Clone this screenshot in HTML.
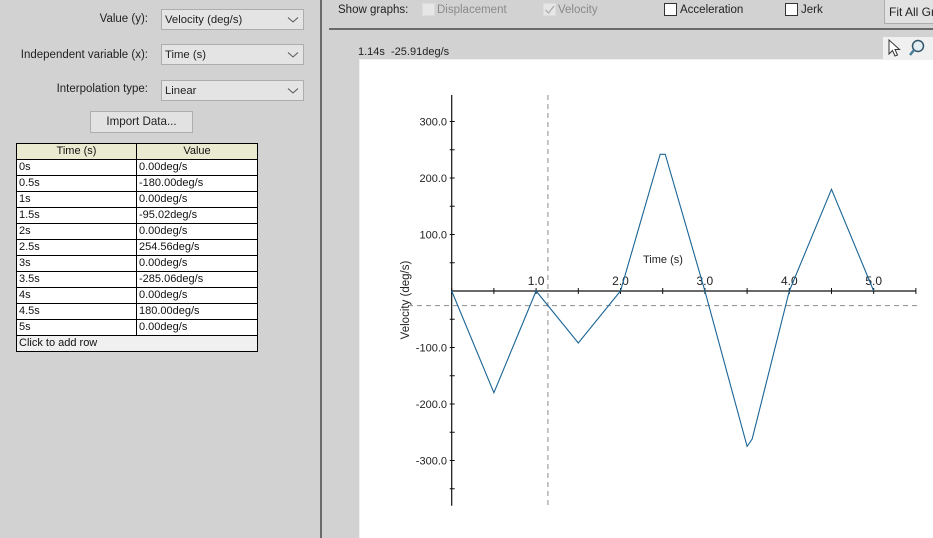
<!DOCTYPE html>
<html lang="en">
<head>
<meta charset="utf-8">
<title>Velocity graph</title>
<style>
html,body{margin:0;padding:0;width:933px;height:538px;overflow:hidden;background:#d2d2d2;}
body{position:relative;font-family:"Liberation Sans",sans-serif;color:#222;}
.abs{position:absolute;white-space:nowrap;}
.lbl{font-size:11.5px;text-align:right;line-height:14px;}
.sel{position:absolute;left:161px;width:141px;height:19px;background:#e4e4e4;border:1px solid #adadad;font-size:11.3px;line-height:20px;text-indent:3px;}
.sel svg{position:absolute;right:4px;top:6px;}
.btn{position:absolute;background:#e2e2e2;border:1px solid #adadad;font-size:11.6px;text-align:center;}
.cb{position:absolute;top:3px;width:11px;height:11px;border:1px solid #333;background:#fff;}
.cb.off{border-color:#dcdcdc;background:#e6e6e6;}
.cbl{position:absolute;top:3px;font-size:11.5px;line-height:14px;white-space:nowrap;}
.cbl.off{color:#8a8a8a;}
table{position:absolute;left:16px;top:143px;width:241px;border-collapse:collapse;table-layout:fixed;font-size:11px;background:#fff;color:#111;}
td,th{border:1px solid #000;height:15px;padding:0 0 0 2px;line-height:15px;font-weight:normal;text-align:left;white-space:nowrap;overflow:hidden;}
th{background:#e9ead0;text-align:center;padding:0;}
td.add{background:#f0f0f0;}
svg text{font-family:"Liberation Sans",sans-serif;}
</style>
</head>
<body>

<div class="abs" style="left:320px;top:0;width:2px;height:538px;background:#6a6a6a"></div>
<div class="abs" style="left:329px;top:28px;width:604px;height:2px;background:#6a6a6a"></div>

<div class="abs lbl" style="right:785px;top:12px">Value (y):</div>
<div class="sel" style="top:9px">Velocity (deg/s)<svg width="12" height="8"><path d="M1 1.5L6 6L11 1.5" fill="none" stroke="#555"/></svg></div>

<div class="abs lbl" style="right:785px;top:48px">Independent variable (x):</div>
<div class="sel" style="top:44px">Time (s)<svg width="12" height="8"><path d="M1 1.5L6 6L11 1.5" fill="none" stroke="#555"/></svg></div>

<div class="abs lbl" style="right:785px;top:82px">Interpolation type:</div>
<div class="sel" style="top:80px">Linear<svg width="12" height="8"><path d="M1 1.5L6 6L11 1.5" fill="none" stroke="#555"/></svg></div>

<div class="btn" style="left:90px;top:111px;width:101px;height:20px;line-height:20px">Import Data...</div>

<table>
<colgroup><col style="width:120px"><col style="width:121px"></colgroup>
<tr><th>Time (s)</th><th>Value</th></tr>
<tr><td>0s</td><td>0.00deg/s</td></tr>
<tr><td>0.5s</td><td>-180.00deg/s</td></tr>
<tr><td>1s</td><td>0.00deg/s</td></tr>
<tr><td>1.5s</td><td>-95.02deg/s</td></tr>
<tr><td>2s</td><td>0.00deg/s</td></tr>
<tr><td>2.5s</td><td>254.56deg/s</td></tr>
<tr><td>3s</td><td>0.00deg/s</td></tr>
<tr><td>3.5s</td><td>-285.06deg/s</td></tr>
<tr><td>4s</td><td>0.00deg/s</td></tr>
<tr><td>4.5s</td><td>180.00deg/s</td></tr>
<tr><td>5s</td><td>0.00deg/s</td></tr>
<tr><td class="add" colspan="2">Click to add row</td></tr>
</table>

<div class="cbl" style="left:338px">Show graphs:</div>
<div class="cb off" style="left:422px"></div>
<div class="cbl off" style="left:437px">Displacement</div>
<div class="cb off" style="left:543px"><svg width="11" height="11" style="display:block"><path d="M1.5 6L4.5 9L10 2" fill="none" stroke="#a8a8a8" stroke-width="1.2"/></svg></div>
<div class="cbl off" style="left:558px">Velocity</div>
<div class="cb" style="left:664px"></div>
<div class="cbl" style="left:680px">Acceleration</div>
<div class="cb" style="left:785px"></div>
<div class="cbl" style="left:801px">Jerk</div>
<div class="btn" style="left:884px;top:-2px;width:60px;height:24px;line-height:26px;text-align:left;text-indent:4px;overflow:hidden;white-space:nowrap;font-size:12px">Fit All Graphs</div>

<div class="abs" style="left:358px;top:46px;font-size:11px;line-height:13px">1.14s&nbsp; -25.91deg/s</div>

<div class="abs" style="left:883px;top:37px;width:50px;height:23px;background:#f0f0f0"></div>
<svg class="abs" style="left:883px;top:37px" width="50" height="23">
<path d="M6 3V17L9.500 13.500L12 19L14.500 18L12 12.500H16.500Z" fill="#fff" stroke="#333"/>
<circle cx="35" cy="9" r="5.500" fill="#e4edf2" stroke="#33556a" stroke-width="1.500"/>
<path d="M31 13L27 18" stroke="#4a7f9a" stroke-width="2.500"/>
</svg>

<div class="abs" style="left:359px;top:59px;width:574px;height:479px;background:#fff;border-left:1px solid #efefef;border-top:1px solid #efefef;box-sizing:border-box"></div>

<svg id="chart" class="abs" style="left:0;top:0" width="933" height="538"></svg>

<script>
const timeValues = [0, 0.5, 1, 1.5, 2, 2.47, 2.53, 3, 3.5, 3.56, 4, 4.5, 5];
const velocityValues = [0, -180, 0, -92, 0, 242, 242, 0, -275, -262, 0, 180, 0];
const xTickValues = [0, 0.5, 1, 1.5, 2, 2.5, 3, 3.5, 4, 4.5, 5, 5.5];
const xTickLabels = ["1.0", "2.0", "3.0", "4.0", "5.0"];
const yTickValues = [-350, -300, -250, -200, -150, -100, -50, 50, 100, 150, 200, 250, 300];
const yTickLabels = ["300.0", "200.0", "100.0", "-100.0", "-200.0", "-300.0"];
const cursorTime = 1.14;
const cursorValue = -25.91;
const xAxisRange = [0, 5.5];
const yAxisRange = [-380, 347];

const X = function (t) { return 451.7 + t * 84.4; };
const Y = function (v) { return 291 - v * 0.565; };
const svg = document.getElementById('chart');
const NS = 'http://www.w3.org/2000/svg';

function make(tag, attrs, parent) {
  const el = document.createElementNS(NS, tag);
  Object.keys(attrs).forEach(function (k) { el.setAttribute(k, attrs[k]); });
  (parent || svg).appendChild(el);
  return el;
}

const cursorV = make('line', { x1: X(cursorTime), x2: X(cursorTime), y1: 95, y2: 507, stroke: '#8c8c8c', 'stroke-dasharray': '5 4' });



const cursorH = make('line', { x1: 408, x2: 917, y1: Y(cursorValue), y2: Y(cursorValue), stroke: '#8c8c8c', 'stroke-dasharray': '5 4' });



const yAxis = make('line', { x1: X(0), x2: X(0), y1: Y(yAxisRange[1]), y2: Y(yAxisRange[0]), stroke: '#111', 'stroke-width': 1.2 });



const xAxis = make('line', { x1: X(xAxisRange[0]), x2: X(xAxisRange[1]), y1: Y(0), y2: Y(0), stroke: '#111', 'stroke-width': 1.2 });



xTickValues.forEach(function (t) {
  const tick = make('line', { x1: X(t), x2: X(t), y1: 288, y2: 294, stroke: '#111' });
  
  
});

yTickValues.forEach(function (v) {
  const tick = make('line', { x1: X(0) - 2, x2: X(0) + 3, y1: Y(v), y2: Y(v), stroke: '#111' });
  
  
});

xTickLabels.forEach(function (s) {
  const label = make('text', { x: X(parseFloat(s)), y: 285, 'font-size': 12, 'text-anchor': 'middle', fill: '#222' });
  label.textContent = s;
  
  
});

yTickLabels.forEach(function (s) {
  const label = make('text', { x: 447, y: Y(parseFloat(s)) + 4, 'font-size': 11, 'text-anchor': 'end', fill: '#222' });
  label.textContent = s;
  
  
});

const xTitle = make('text', { x: 643, y: 263, 'font-size': 11, fill: '#222' });
xTitle.textContent = 'Time (s)';



const yTitle = make('text', { x: 409, y: 300, 'font-size': 11.500, 'text-anchor': 'middle', fill: '#222', transform: 'rotate(-90 409 300)' });
yTitle.textContent = 'Velocity (deg/s)';



const points = timeValues.map(function (t, i) { return X(t) + ',' + Y(velocityValues[i]); }).join(' ');
const series = make('polyline', { points: points, fill: 'none', stroke: '#1a6496', 'stroke-width': 1.1 });


</script>
</body>
</html>
